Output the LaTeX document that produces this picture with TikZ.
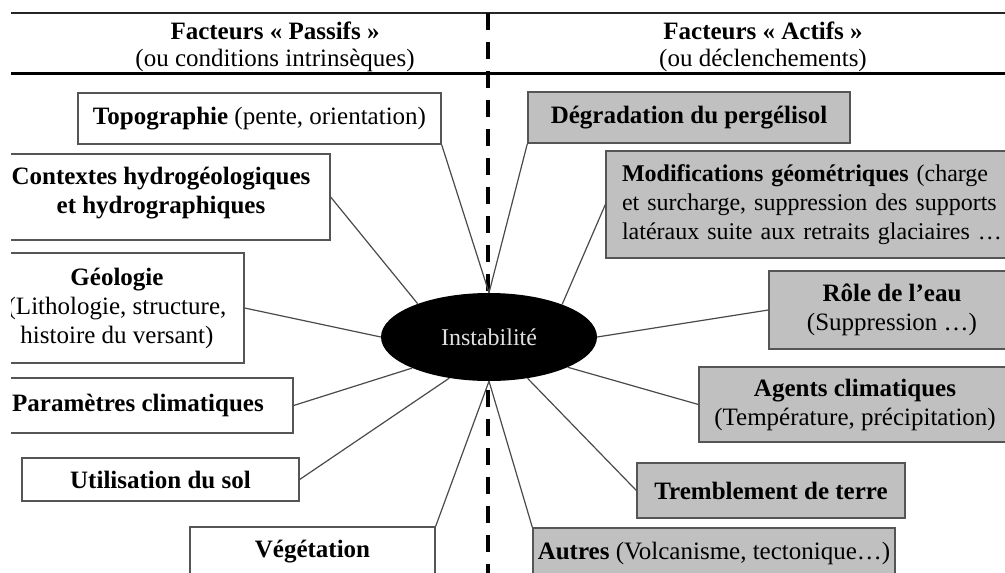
\documentclass[tikz,border=0pt]{standalone}
\usepackage{fontspec}
\setmainfont{Liberation Serif}
\usetikzlibrary{shapes.geometric}
\definecolor{boxc}{HTML}{555555}
\definecolor{linec}{HTML}{4A4A4A}
\definecolor{grayf}{HTML}{C0C0C0}
\newcommand\fsz{\fontsize{25}{29}\selectfont}
\newcommand\fszs{\fontsize{24}{29}\selectfont}
\begin{document}
\begin{tikzpicture}[x=1pt,y=-1pt,
  pbox/.style={draw=boxc, line width=1.3pt, fill=white, inner sep=0pt, align=center, font=\fsz},
  abox/.style={pbox, fill=grayf},
  link/.style={draw=linec, line width=1.2pt},
  title/.style={inner sep=0pt, font=\fsz}]
\useasboundingbox (0,0) rectangle (1005,573);
\clip (11,0) rectangle (1005,573);
% header
\coordinate (hl1) at (11,13);
\coordinate (hr1) at (1005,13);
\coordinate (hl2) at (11,73);
\coordinate (hr2) at (1005,73);
\draw[line width=1.5pt, draw=black!85] (hl1) -- (hr1);
\draw[line width=3pt] (hl2) -- (hr2);
\node[title] (tp1) at (275,31) {\textbf{Facteurs « Passifs »}};
\node[title] (tp2) at (275,60) {(ou conditions intrinsèques)};
\node[title] (ta1) at (763,31) {\textbf{Facteurs « Actifs »}};
\node[title] (ta2) at (763,60) {(ou déclenchements)};
% dashed divider
\coordinate (dtop) at (488,13);
\coordinate (dbot) at (488,580);
\draw[line width=4pt, dash pattern=on 17pt off 12pt] (dtop) -- (dbot);
% left boxes
\node[pbox, minimum width=363, minimum height=51] (topo) at (259.5,118.5)
  {\textbf{Topographie} (pente, orientation)};
\node[pbox, minimum width=338, minimum height=86] (ctx) at (161,197)
  {\textbf{Contextes hydrogéologiques}\\\textbf{et hydrographiques}\\[-15pt]};
\node[pbox, minimum width=254, minimum height=110] (geo) at (117,308)
  {\textbf{Géologie}\\(Lithologie, structure,\\histoire du versant)};
\node[pbox, minimum width=310, minimum height=55] (par) at (138,405.5)
  {\textbf{Paramètres climatiques}};
\node[pbox, minimum width=277, minimum height=43] (uti) at (160.5,479.5)
  {\textbf{Utilisation du sol}};
\node[pbox, minimum width=245, minimum height=50] (veg) at (312.5,552)
  {\textbf{Végétation}};
% right boxes
\node[abox, minimum width=322, minimum height=51] (deg) at (689,117.5)
  {\textbf{Dégradation du pergélisol}};
\node[abox, font=\fszs, inner xsep=16pt, text width=400pt, align=left, minimum height=107] (mod) at (822,204.5)
  {\textbf{Modifications géométriques} (charge\\et surcharge, suppression des supports\\latéraux suite aux retraits glaciaires …};
\node[abox, minimum width=246, minimum height=78] (role) at (892,310)
  {\textbf{Rôle de l’eau}\\(Suppression …)};
\node[abox, minimum width=312, minimum height=75] (agt) at (855,404.5)
  {\textbf{Agents climatiques}\\(Température, précipitation)};
\node[abox, minimum width=268, minimum height=55] (tre) at (771,490.5)
  {\textbf{Tremblement de terre}};
\node[abox, minimum width=362, minimum height=50] (aut) at (714,553)
  {\textbf{Autres} (Volcanisme, tectonique…)};
% centre
\node[ellipse, fill=black, minimum width=216, minimum height=88, inner sep=0pt,
  text=white!88!black, font=\fontsize{24}{28}\selectfont] (ell) at (489,337) {Instabilité};
% connectors
\draw[link] (topo.south east) -- (ell.90);
\draw[link] (ctx.east) -- (ell.155);
\draw[link] (geo.east) -- (ell.180);
\draw[link] (par.east) -- (ell.202);
\draw[link] (uti.east) -- (ell.226);
\draw[link] (veg.north east) -- (ell.270);
\draw[link] (deg.south west) -- (ell.90);
\draw[link] (mod.west) -- (ell.24);
\draw[link] (role.west) -- (ell.0);
\draw[link] (agt.west) -- (ell.339);
\draw[link] (tre.west) -- (ell.313);
\draw[link] (aut.north west) -- (ell.270);
\end{tikzpicture}
\end{document}
